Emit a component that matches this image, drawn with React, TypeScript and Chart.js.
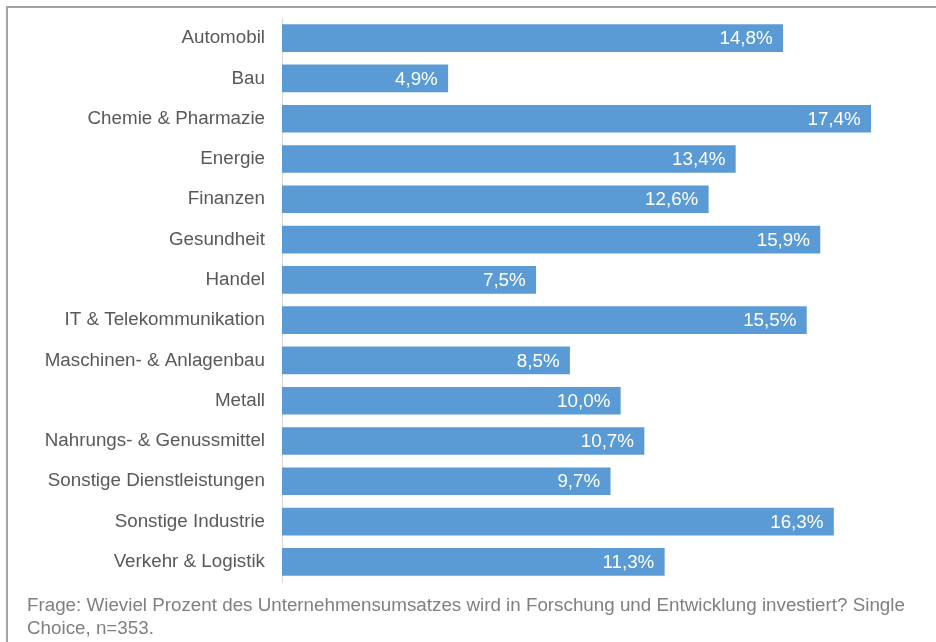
import React, { useEffect, useRef } from "react";
import { Chart, registerables } from "chart.js";

Chart.register(...registerables);

const categories = [
  "Automobil",
  "Bau",
  "Chemie & Pharmazie",
  "Energie",
  "Finanzen",
  "Gesundheit",
  "Handel",
  "IT & Telekommunikation",
  "Maschinen- & Anlagenbau",
  "Metall",
  "Nahrungs- & Genussmittel",
  "Sonstige Dienstleistungen",
  "Sonstige Industrie",
  "Verkehr & Logistik",
];

const values = [14.8, 4.9, 17.4, 13.4, 12.6, 15.9, 7.5, 15.5, 8.5, 10.0, 10.7, 9.7, 16.3, 11.3];

const footnoteLines = [
  "Frage: Wieviel Prozent des Unternehmensumsatzes wird in Forschung und Entwicklung investiert? Single",
  "Choice, n=353.",
];

const FONT = "'Liberation Sans', Arial, sans-serif";
const FS = 18.8;

const valueLabelPlugin = {
  id: "valueLabels",
  afterDatasetsDraw(chart: any) {
    const ctx = chart.ctx;
    const meta = chart.getDatasetMeta(0);
    ctx.save();
    ctx.font = `${FS}px ${FONT}`;
    ctx.fillStyle = "#ffffff";
    ctx.textAlign = "right";
    ctx.textBaseline = "middle";
    meta.data.forEach((bar: any, i: number) => {
      const v = chart.data.datasets[0].data[i] as number;
      const txt = v.toFixed(1).replace(".", ",") + "%";
      ctx.fillText(txt, bar.x - 10, bar.y + 1);
    });
    ctx.restore();
  },
};

export default function App() {
  const ref = useRef<HTMLCanvasElement | null>(null);

  useEffect(() => {
    if (!ref.current) return;
    const chart = new Chart(ref.current, {
      type: "bar",
      data: {
        labels: categories,
        datasets: [
          {
            data: values,
            backgroundColor: "#5B9BD5",
            borderWidth: 0,
            barThickness: 27,
          },
        ],
      },
      options: {
        indexAxis: "y",
        animation: false,
        responsive: false,
        maintainAspectRatio: false,
        layout: { padding: { top: 18, bottom: 12, right: 45, left: 0 } },
        plugins: {
          legend: { display: false },
          tooltip: { enabled: false },
          title: { display: false },
        },
        scales: {
          x: {
            display: false,
            min: 0,
            max: 18,
          },
          y: {
            afterFit(scale: any) {
              scale.width = 282;
            },
            grid: {
              display: false,
              drawTicks: true,
              tickLength: 17,
              tickColor: "rgba(0,0,0,0)",
            },
            border: { display: true, color: "#d9d9d9", width: 1 },
            ticks: {
              padding: 0,
              color: "#595959",
              font: { family: FONT, size: FS },
            },
          },
        },
      },
      plugins: [valueLabelPlugin],
    });
    return () => chart.destroy();
  }, []);

  return (
    <div
      style={{
        position: "fixed",
        left: 0,
        top: 0,
        width: 936,
        height: 642,
        background: "#ffffff",
        overflow: "hidden",
      }}
    >
      <div
        style={{
          position: "absolute",
          left: 6,
          top: 6,
          width: 1000,
          height: 1000,
          borderTop: "2px solid #a3a3a3",
          borderLeft: "2px solid #a3a3a3",
        }}
      />
      <canvas
        ref={ref}
        width={936}
        height={594}
        style={{ position: "absolute", left: 0, top: 0, width: 936, height: 594 }}
      />
      <div
        style={{
          position: "absolute",
          left: 27,
          top: 593,
          fontFamily: FONT,
          fontSize: FS,
          lineHeight: "23px",
          color: "#808080",
          whiteSpace: "nowrap",
        }}
      >
        {footnoteLines.map((l, i) => (
          <div key={i}>{l}</div>
        ))}
      </div>
    </div>
  );
}
